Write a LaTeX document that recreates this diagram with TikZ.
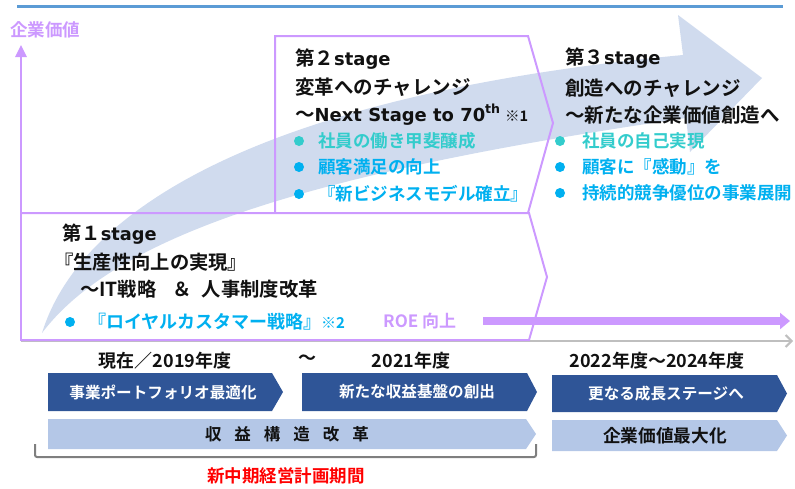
\documentclass[tikz,border=0pt]{standalone}
\usepackage{fontspec}
\setmainfont{Noto Sans CJK JP}[BoldFont={Noto Sans CJK JP Bold}]
\newfontfamily\lat{DejaVu Sans}[Scale=0.92]
\usetikzlibrary{arrows.meta}
\definecolor{purp}{HTML}{CC99FF}
\definecolor{bigarr}{HTML}{D0DBEE}
\definecolor{teal2}{HTML}{33CCCC}
\definecolor{sky}{HTML}{00B0F0}
\definecolor{navy}{HTML}{2F5597}
\definecolor{pale}{HTML}{B4C7E7}
\definecolor{topline}{HTML}{5B9BD5}
\definecolor{axisgray}{HTML}{BFBFBF}
\definecolor{brgray}{HTML}{7F7F7F}
\definecolor{redt}{HTML}{FF0000}
\definecolor{ink}{HTML}{111111}
\newcommand\fs[1]{\fontsize{#1}{#1}\selectfont}
\begin{document}
\begin{tikzpicture}[x=1pt,y=-1pt,
  txt/.style={anchor=base west, inner sep=0, text=ink, font=\bfseries\fs{19.5}},
  stoneT/.style={anchor=base west, inner sep=0, text=ink, font=\bfseries\fs{19.3}},
  bul/.style={anchor=base west, inner sep=0, font=\bfseries\fs{17.5}},
  dot/.style={circle, inner sep=0, minimum size=10pt},
  ctr/.style={anchor=center, inner sep=0, font=\bfseries\fs{18}, text=ink},
  chevw/.style={anchor=center, inner sep=0, font=\bfseries\fs{15.6}, text=white},
  stageline/.style={draw=purp, line width=2pt}]
\useasboundingbox (0,0) rectangle (795,488);

% big sweeping arrow
\fill[bigarr] (42,333) .. controls (80,210) and (260,95) .. (683,55) -- (678,15) -- (762,78) -- (690,152) -- (686,118) .. controls (330,170) and (120,230) .. (42,333) -- cycle;

% top line
\coordinate (tl1) at (17,6); \coordinate (tl2) at (783,6);
\draw[topline, line width=3pt] (tl1) -- (tl2);

% axes
\coordinate (orig) at (21,341);
\coordinate (ytop) at (21,45);
\coordinate (xend) at (793,341);
\draw[axisgray, line width=2pt, -{Straight Barb[length=6pt,width=12pt]}] (orig) -- (xend);

% stage outlines
\draw[stageline] (21,213) -- (529,213) -- (547,277) -- (529,340) -- (21,340);
\draw[stageline] (528,213) -- (553,123) -- (528,36) -- (275,36) -- (275,213);
\draw[purp, line width=2.5pt, -{Triangle[length=12pt,width=11pt]}] (orig) -- (ytop);

\node[anchor=west, inner sep=0, text=purp, font=\bfseries\fs{17.5}] (yl) at (10,30) {企業価値};

% ROE arrow
\coordinate (roeS) at (483,321); \coordinate (roeE) at (790,321);
\draw[purp, line width=8pt, -{Triangle[length=10pt,width=16pt]}] (roeS) -- (roeE);
\node[anchor=base west, inner sep=0, text=purp, font=\bfseries\fs{17}] (roe) at (383,327.5) {ROE 向上};

% stage 2
\node[txt] (s2a) at (295,65.4) {第２{\lat stage}};
\node[txt] (s2b) at (295,94.4) {変革へのチャレンジ};
\node[txt] (s2c) at (295,121.4) {～{\lat Next Stage to 70\textsuperscript{th}} {\fs{14.5}※1}};
\node[dot, fill=teal2] (d21) at (299,141) {};
\node[dot, fill=sky] (d22) at (299,167) {};
\node[dot, fill=sky] (d23) at (299,194) {};
\node[bul, text=teal2] (b21) at (318,147.6) {社員の働き甲斐醸成};
\node[bul, text=sky] (b22) at (318,173.6) {顧客満足の向上};
\node[bul, text=sky] (b23) at (318,200.6) {『新ビジネスモデル確立』};

% stage 3
\node[txt] (s3a) at (565,64.4) {第３{\lat stage}};
\node[txt] (s3b) at (565,95.4) {創造へのチャレンジ};
\node[txt] (s3c) at (565,122.4) {～新たな企業価値創造へ};
\node[dot, fill=teal2] (d31) at (560,141) {};
\node[dot, fill=sky] (d32) at (560,167) {};
\node[dot, fill=sky] (d33) at (560,193) {};
\node[bul, text=teal2] (b31) at (582,147.6) {社員の自己実現};
\node[bul, text=sky] (b32) at (582,173.6) {顧客に『感動』を};
\node[bul, text=sky] (b33) at (582,199.6) {持続的競争優位の事業展開};

% stage 1
\node[stoneT] (s1a) at (62,240.3) {第１{\lat stage}};
\node[stoneT] (s1b) at (54,269.3) {『生産性向上の実現』};
\node[stoneT] (s1c) at (80,296.3) {～IT戦略\hspace{16pt}＆\hspace{10pt}人事制度改革};
\node[dot, fill=sky] (d11) at (70,322) {};
\node[anchor=base west, inner sep=0, text=sky, font=\bfseries\fs{18}] (b11) at (88,328.8) {『ロイヤルカスタマー戦略』{\fs{15}※2}};

% timeline labels
\node[ctr] (t1) at (165,361) {現在／2019年度};
\node[ctr] (t2) at (307,360) {～};
\node[ctr] (t3) at (411,361) {2021年度};
\node[ctr] (t4) at (657,361) {2022年度～2024年度};

% chevrons
\fill[navy] (48,373) -- (272,373) -- (283,392) -- (272,411) -- (48,411) -- cycle;
\fill[navy] (302,373) -- (527,373) -- (537,392) -- (527,411) -- (302,411) -- cycle;
\fill[navy] (552,375) -- (777,375) -- (787,393.5) -- (777,412) -- (552,412) -- cycle;
\fill[pale] (48,419) -- (526,419) -- (536,434) -- (526,449) -- (48,449) -- cycle;
\fill[pale] (552,420) -- (777,420) -- (787,435.5) -- (777,451) -- (552,451) -- cycle;

\node[chevw] (c1) at (163,392) {事業ポートフォリオ最適化};
\node[chevw] (c2) at (417,392) {新たな収益基盤の創出};
\node[chevw] (c3) at (666,393.5) {更なる成長ステージへ};
\node[anchor=center, inner sep=0, text=ink, font=\bfseries\fs{16.5}] (c4) at (287,434) {収\hspace{13pt}益\hspace{13pt}構\hspace{13pt}造\hspace{13pt}改\hspace{13pt}革};
\node[anchor=center, inner sep=0, text=ink, font=\bfseries\fs{17.7}] (c5) at (665,435.5) {企業価値最大化};

% bracket
\coordinate (br1) at (35,444); \coordinate (br2) at (536,444);
\draw[brgray, line width=2pt, rounded corners=2pt] (br1) -- (35,457) -- (536,457) -- (br2);
\node[anchor=center, inner sep=0, text=redt, font=\bfseries\fs{17.5}] (red) at (286,476) {新中期経営計画期間};
\end{tikzpicture}
\end{document}
